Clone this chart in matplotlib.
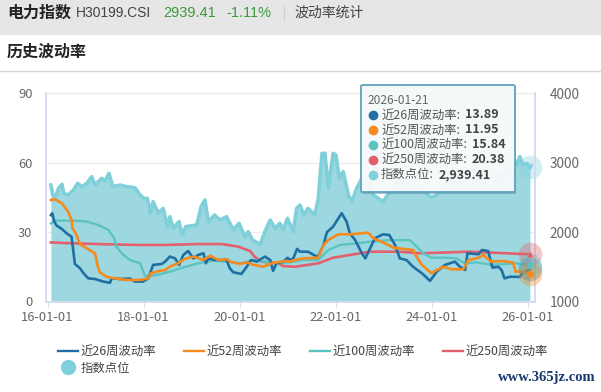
import matplotlib
matplotlib.use("Agg")
import matplotlib.pyplot as plt
from matplotlib.lines import Line2D
from matplotlib.patches import Rectangle, FancyBboxPatch

plt.rcParams['font.family'] = ['Noto Sans CJK SC', 'DejaVu Sans']

W, H = 601, 392

idx_x = [2016.07,2016.11,2016.17,2016.23,2016.30,2016.34,2016.43,2016.54,2016.63,2016.71,2016.82,2016.92,2016.99,2017.13,2017.20,2017.28,2017.36,2017.51,2017.65,2017.82,2017.93,2018.01,2018.08,2018.14,2018.20,2018.31,2018.41,2018.50,2018.55,2018.62,2018.74,2018.81,2018.88,2019.11,2019.20,2019.28,2019.35,2019.48,2019.59,2019.73,2019.87,2019.99,2020.11,2020.18,2020.27,2020.43,2020.53,2020.64,2020.74,2020.84,2020.91,2021.00,2021.12,2021.19,2021.26,2021.34,2021.43,2021.57,2021.64,2021.72,2021.78,2021.85,2021.95,2022.01,2022.08,2022.16,2022.27,2022.34,2022.44,2022.55,2022.70,2022.79,2022.89,2022.99,2023.15,2023.30,2023.50,2023.80,2024.00,2024.10,2024.30,2024.50,2024.70,2024.90,2025.10,2025.30,2025.50,2025.70,2025.77,2025.84,2025.91,2025.98,2026.05]
idx_y = [2676,2532,2508,2628,2686,2556,2532,2604,2700,2652,2700,2796,2676,2772,2734,2844,2652,2676,2652,2638,2532,2484,2484,2268,2436,2268,2340,2077,2220,2053,2148,1957,2077,2100,2364,2460,2148,2244,2172,2220,2029,2125,1933,2005,1885,1822,2005,2172,2053,2125,2029,2196,2000,2340,2388,2245,2340,2245,2484,3132,3132,2628,3132,3108,2772,2868,2532,2436,2628,2772,2750,2532,2484,2436,2600,2750,2700,2600,2500,2530,2700,2800,2750,2950,2850,2750,2850,2950,2964,3084,2964,2988,2939.41]

v26_x = [2016.07,2016.10,2016.14,2016.19,2016.30,2016.40,2016.50,2016.54,2016.57,2016.68,2016.75,2016.85,2016.99,2017.16,2017.30,2017.34,2017.51,2017.72,2017.82,2017.99,2018.10,2018.20,2018.38,2018.45,2018.55,2018.66,2018.74,2018.83,2018.93,2019.04,2019.14,2019.25,2019.30,2019.35,2019.49,2019.73,2019.80,2019.87,2020.04,2020.15,2020.24,2020.36,2020.53,2020.64,2020.70,2020.77,2020.91,2021.00,2021.05,2021.12,2021.20,2021.26,2021.43,2021.57,2021.64,2021.75,2021.82,2021.95,2022.06,2022.13,2022.23,2022.30,2022.41,2022.55,2022.62,2022.72,2022.82,2022.99,2023.12,2023.24,2023.34,2023.48,2023.59,2023.66,2023.80,2023.97,2024.11,2024.28,2024.49,2024.59,2024.70,2024.75,2024.98,2025.05,2025.18,2025.27,2025.39,2025.46,2025.52,2025.64,2025.84,2025.89,2026.05]
v26_y = [37.3,38.1,34.5,32.8,31.3,29.4,28.0,21.5,16.2,14.3,12.2,10.0,9.7,8.6,8.1,10.0,9.7,9.9,8.6,8.6,10.0,15.8,16.2,17.2,19.4,18.6,15.8,20.1,21.8,18.6,20.1,20.8,16.5,18.6,17.9,17.9,14.3,12.6,11.9,15.0,17.9,17.2,19.4,17.9,13.2,16.5,17.2,18.9,17.9,18.6,22.7,21.5,21.5,19.8,19.4,24.4,29.9,32.3,35.9,38.1,34.5,29.4,26.5,20.8,18.6,22.9,27.3,29.0,28.7,24.4,18.6,17.9,15.5,14.3,12.2,8.9,12.9,15.8,17.2,15.0,13.6,20.8,20.4,22.2,21.8,14.6,15.0,13.6,10.0,10.7,10.6,12.2,13.89]

v52_x = [2016.07,2016.16,2016.30,2016.43,2016.50,2016.52,2016.59,2016.68,2016.82,2016.99,2017.04,2017.09,2017.23,2017.40,2017.65,2017.93,2018.10,2018.15,2018.34,2018.45,2018.55,2018.72,2018.86,2019.04,2019.25,2019.39,2019.56,2019.75,2019.80,2020.01,2020.15,2020.29,2020.50,2020.67,2020.95,2021.05,2021.16,2021.33,2021.64,2021.75,2021.85,2022.06,2022.30,2022.68,2022.79,2023.03,2023.21,2023.62,2023.69,2023.80,2024.00,2024.11,2024.25,2024.42,2024.66,2024.77,2024.98,2025.08,2025.24,2025.46,2025.70,2025.75,2025.88,2026.05]
v52_y = [43.8,44.1,42.4,38.8,35.2,31.6,29.4,24.7,22.9,20.8,15.8,12.6,10.7,10.0,9.3,9.3,10.0,12.2,13.2,13.6,15.0,16.5,18.4,19.4,17.9,19.8,17.9,18.2,17.2,16.2,16.9,15.8,15.0,16.5,17.5,17.2,17.9,18.6,18.9,24.4,26.6,29.0,29.0,29.7,27.3,25.1,23.2,22.2,19.3,15.8,12.2,13.6,15.0,13.9,13.9,17.9,18.9,20.1,17.2,17.5,16.8,12.9,12.9,11.95]

v100_x = [2016.07,2016.16,2016.54,2016.82,2017.06,2017.27,2017.39,2017.43,2017.58,2017.72,2017.93,2018.03,2018.14,2018.34,2018.62,2018.83,2019.14,2019.42,2019.77,2020.04,2020.29,2020.53,2020.74,2021.05,2021.33,2021.64,2021.85,2022.09,2022.44,2022.72,2023.14,2023.55,2023.69,2023.83,2024.00,2024.28,2024.52,2024.70,2024.94,2025.25,2025.74,2026.05]
v100_y = [33.7,34.9,34.9,34.5,33.0,30.9,27.3,23.7,20.1,17.9,16.5,11.0,11.0,11.7,13.3,14.7,16.5,17.6,17.2,16.5,17.9,17.2,16.5,16.9,17.9,17.9,22.2,24.4,25.1,25.8,26.5,26.5,23.7,20.8,18.9,18.9,18.6,16.5,16.9,15.8,16.5,15.84]

v250_x = [2016.07,2016.54,2017.23,2017.93,2018.45,2019.14,2019.63,2019.97,2020.22,2020.31,2020.46,2020.81,2020.91,2021.16,2021.64,2021.95,2022.30,2022.72,2023.34,2023.76,2024.35,2024.77,2026.05]
v250_y = [25.5,25.1,24.7,24.4,24.4,24.8,24.8,23.7,21.8,19.4,17.2,16.5,15.3,15.0,16.5,18.9,20.1,21.5,21.5,20.8,21.2,21.5,20.38]

year_ticks = [2016, 2018, 2020, 2022, 2024, 2026]
x_labels = ['16-01-01', '18-01-01', '20-01-01', '22-01-01', '24-01-01', '26-01-01']
left_ticks = [0, 30, 60, 90]
right_ticks = [1000, 2000, 3000, 4000]
series_names = ['近26周波动率', '近52周波动率', '近100周波动率', '近250周波动率', '指数点位']
tooltip_date = '2026-01-21'
tooltip_values = ['13.89', '11.95', '15.84', '20.38', '2,939.41']

C26, C52, C100, C250, CIDX = '#1f6fa3', '#f58a1f', '#5cc4c0', '#e2606c', '#7fd0da'
CFILL = '#9dd8e0'
AXC = '#d3deee'
TXT = '#666666'

fig = plt.figure(figsize=(W / 100, H / 100), dpi=100, facecolor='white')

def fx(p): return p / W
def fy(p): return 1 - p / H

fig.patches.append(Rectangle((0, fy(35)), 1, 35 / H, transform=fig.transFigure, fc='#e6e6e6', ec='none'))
fig.lines.append(Line2D([0, 1], [fy(70.5)] * 2, transform=fig.transFigure, color='#d9d9d9', lw=1))
fig.lines.append(Line2D([fx(283.5)] * 2, [fy(6), fy(21)], transform=fig.transFigure, color='#d0d0d0', lw=0.8))
def T(x, y, s, size, color, **kw):
    return fig.text(fx(x), fy(y), s, fontsize=size, color=color, va='center', ha=kw.pop('ha', 'left'), **kw)
T(7, 13, '电力指数', 11.5, '#222222', fontweight='bold')
T(76, 13, 'H30199.CSI', 10, '#444444', family='Liberation Sans')
T(163, 13, '2939.41', 10.5, '#3d9a3d', family='Liberation Sans')
T(226, 13, '-1.11%', 10.5, '#3d9a3d', family='Liberation Sans')
T(294, 13, '波动率统计', 10, '#444444')
T(7, 52, '历史波动率', 11.5, '#222222', fontweight='bold')
T(596, 377, 'www.365jz.com', 10.5, '#17376e', family='Liberation Serif', fontweight='bold', ha='right')

x0, x1, yt, yb = 45.7, 535, 93, 301.5
ax = fig.add_axes([fx(x0), fy(yb), fx(x1) - fx(x0), (yb - yt) / H])
ax2 = ax.twinx()
ax.set_zorder(ax2.get_zorder() + 1)
ax.patch.set_visible(False)

xlim = (2016 + (x0 - 47.5) / 48, 2016 + (x1 - 47.5) / 48)
ax.set_xlim(xlim)
ax.set_ylim(0, 90)
ax2.set_ylim(1000, 4000)

ax2.fill_between(idx_x, idx_y, 1000, color=CFILL, lw=0, zorder=2)
ax2.plot(idx_x, idx_y, color=CIDX, lw=2.6, zorder=3, solid_joinstyle='round')
for v in right_ticks[1:]:
    ax2.axhline(v, color='#ececec', lw=1, zorder=1)

ax.plot(v250_x, v250_y, color=C250, lw=1.9, zorder=3)
ax.plot(v100_x, v100_y, color=C100, lw=1.7, zorder=4)
ax.plot(v26_x, v26_y, color=C26, lw=1.9, zorder=5)
ax.plot(v52_x, v52_y, color=C52, lw=1.9, zorder=6)

for i, (xs, ys, c, m, a) in enumerate([(v26_x, v26_y, C26, 'o', ax), (idx_x, idx_y, CIDX, 'v', ax2),
                                       (v250_x, v250_y, C250, '^', ax), (v100_x, v100_y, C100, 's', ax),
                                       (v52_x, v52_y, C52, 'o', ax)]):
    a.plot(xs[-1], ys[-1], 'o', ms=17, color=c, alpha=0.35, mew=0, zorder=7 + i * 0.1, clip_on=False)
    if i > 0:
        a.plot(xs[-1], ys[-1], m, ms=5, mfc=c, mec='none', zorder=8 + i * 0.1, clip_on=False)

ax.set_xticks(year_ticks, x_labels)
ax.set_yticks(left_ticks)
ax2.set_yticks(right_ticks)
for a in (ax, ax2):
    for s in a.spines.values():
        s.set_color(AXC)
        s.set_linewidth(1.2)
    a.spines['top'].set_visible(False)
    a.tick_params(labelsize=9.3, colors=TXT, length=0, pad=9.5)
ax2.tick_params(labelsize=9.8, pad=10.5)
ax.tick_params(axis='x', length=4, color=AXC, pad=3, labelsize=9.3)

# filled column by column: first column holds the first and last series
lines = [Line2D([], [], color=c, lw=1.7) for c in (C26, C52, C100, C250)]
dot = Line2D([], [], marker='o', ls='', ms=10, color=CIDX)
fig.legend([lines[0], dot, lines[1], lines[2], lines[3]],
           [series_names[0], series_names[4], series_names[1], series_names[2], series_names[3]],
           ncol=4, frameon=False, loc='upper left', bbox_to_anchor=(fx(58), fy(345)),
           fontsize=8.9, labelcolor='#444444', handlelength=1.62, handletextpad=0.2,
           columnspacing=2.25, labelspacing=0.28, borderpad=0, borderaxespad=0)

fig.patches.append(FancyBboxPatch((fx(362), fy(194)), fx(516) - fx(362), (194 - 86) / H,
                                  boxstyle='round,pad=0,rounding_size=0.003', transform=fig.transFigure,
                                  fc='#4a7f99', ec='none', alpha=0.45, zorder=20))
fig.patches.append(FancyBboxPatch((fx(361), fy(192)), fx(515) - fx(361), (192 - 85) / H,
                                  boxstyle='round,pad=0,rounding_size=0.003', transform=fig.transFigure,
                                  fc='#fbfdfd', ec='#62a3bf', lw=1.4, alpha=0.94, zorder=21))
T(368, 100, tooltip_date, 8.6, '#666666', zorder=22)
dot_colors = [C26, C52, C100, C250, CIDX]
for i, (name, val, c) in enumerate(zip(series_names, tooltip_values, dot_colors)):
    y = 115 + i * 14.9
    fig.add_artist(Line2D([fx(372.5)], [fy(y)], marker='o', ms=6, color=c, ls='', transform=fig.transFigure, zorder=22))
    t = T(381, y, name + ':', 8.9, '#555555', zorder=22)
    fig.canvas.draw()
    bb = t.get_window_extent()
    T(bb.x1 + 5, y, val, 9, '#444444', fontweight='bold', zorder=22)

fig.savefig('out.png', dpi=100, facecolor='white')
